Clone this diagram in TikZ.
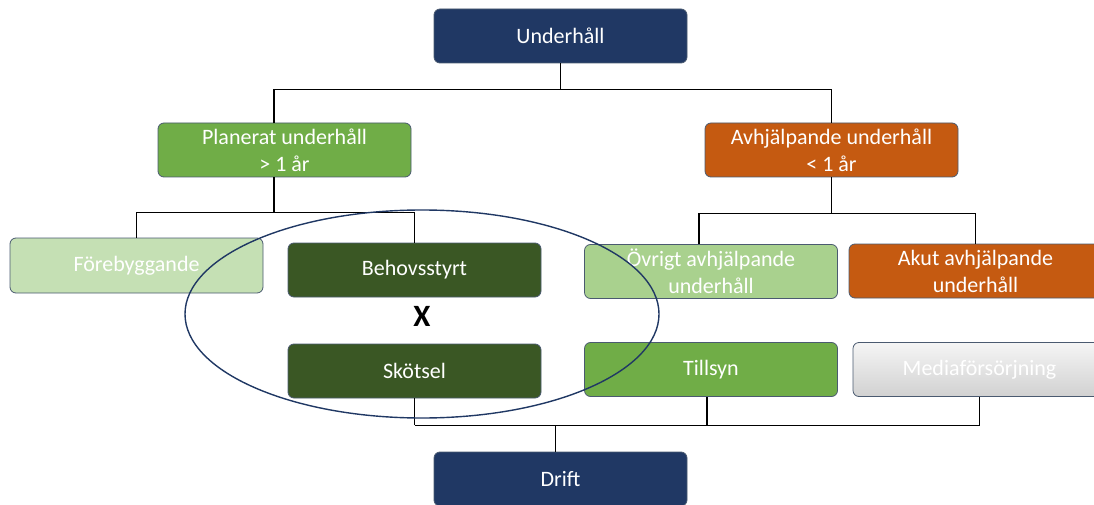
\documentclass[tikz,border=0pt]{standalone}
\usepackage{fontspec}
\setmainfont{Carlito}
\usetikzlibrary{calc}
\definecolor{navy}{HTML}{203864}
\definecolor{bordc}{HTML}{4A5A70}
\definecolor{gmid}{HTML}{70AD47}
\definecolor{glight}{HTML}{C5E0B4}
\definecolor{glight2}{HTML}{A9D18E}
\definecolor{gdark}{HTML}{3A5724}
\definecolor{orng}{HTML}{C55A11}
\tikzset{
  box/.style={rounded corners=6pt, draw=bordc, line width=0.8pt, minimum width=253pt,
    minimum height=54pt, text=white, align=center, inner sep=0pt,
    font=\fontsize{22}{27}\selectfont},
  conn/.style={draw=black, line width=1.5pt},
}
\begin{document}
\begin{tikzpicture}[x=1pt,y=-1pt]
\useasboundingbox (0,0) rectangle (1094,505);
\clip (0,0) rectangle (1094,505);
\node[box, fill=navy] (under) at (560.5,36) {Underhåll};
\node[box, fill=gmid] (plan) at (284.5,150) {Planerat underhåll\\> 1 år};
\node[box, fill=orng] (avh) at (831.5,150) {Avhjälpande underhåll\\< 1 år};
\node[box, fill=glight, minimum height=55pt] (fore) at (136.5,265.5) {Förebyggande};
\node[box, fill=gdark] (beh) at (414.5,270) {Behovsstyrt};
\node[box, fill=gdark] (sko) at (414.5,371) {Skötsel};
\node[box, fill=glight2] (ovr) at (711,271.5) {Övrigt avhjälpande\\underhåll};
\node[box, fill=orng] (akut) at (975.5,271) {Akut avhjälpande\\underhåll};
\node[box, fill=gmid] (till) at (711,369.5) {Tillsyn};
\node[box, top color=white!96!black, bottom color=white!82!black] (media) at (979.5,369.5) {Mediaförsörjning};
\node[box, fill=navy] (drift) at (560.5,479) {Drift};
\node[font=\fontsize{31}{34}\selectfont\bfseries] (x) at (422,316) {X};
% top connectors
\coordinate (pl) at ($(plan.north west)!0.458!(plan.north east)$);
\coordinate (plb) at ($(plan.south west)!0.458!(plan.south east)$);
\draw[conn] (under.south) -- ++(0,26) coordinate (tj);
\draw[conn] (pl) |- (tj) -| (avh.north);
% left group
\draw[conn] (plb) -- ++(0,35) coordinate (lj);
\draw[conn] (fore.north) |- (lj) -| (beh.north);
% right group
\coordinate (ov) at ($(ovr.north west)!0.452!(ovr.north east)$);
\draw[conn] (avh.south) -- ++(0,36) coordinate (rj);
\draw[conn] (ov) |- (rj) -| (akut.north);
% bottom
\coordinate (ti) at ($(till.south west)!0.485!(till.south east)$);
\coordinate (dr) at ($(drift.north west)!0.48!(drift.north east)$);
\draw[conn] (sko.south) -- ++(0,27) coordinate (bj);
\draw[conn] (bj) -| (media.south);
\draw[conn] (ti) -- (ti |- bj);
\draw[conn] (dr) -- (dr |- bj);
% ellipse
\draw[navy, line width=1.4pt] (422,314) ellipse [x radius=237, y radius=104];
\end{tikzpicture}
\end{document}
